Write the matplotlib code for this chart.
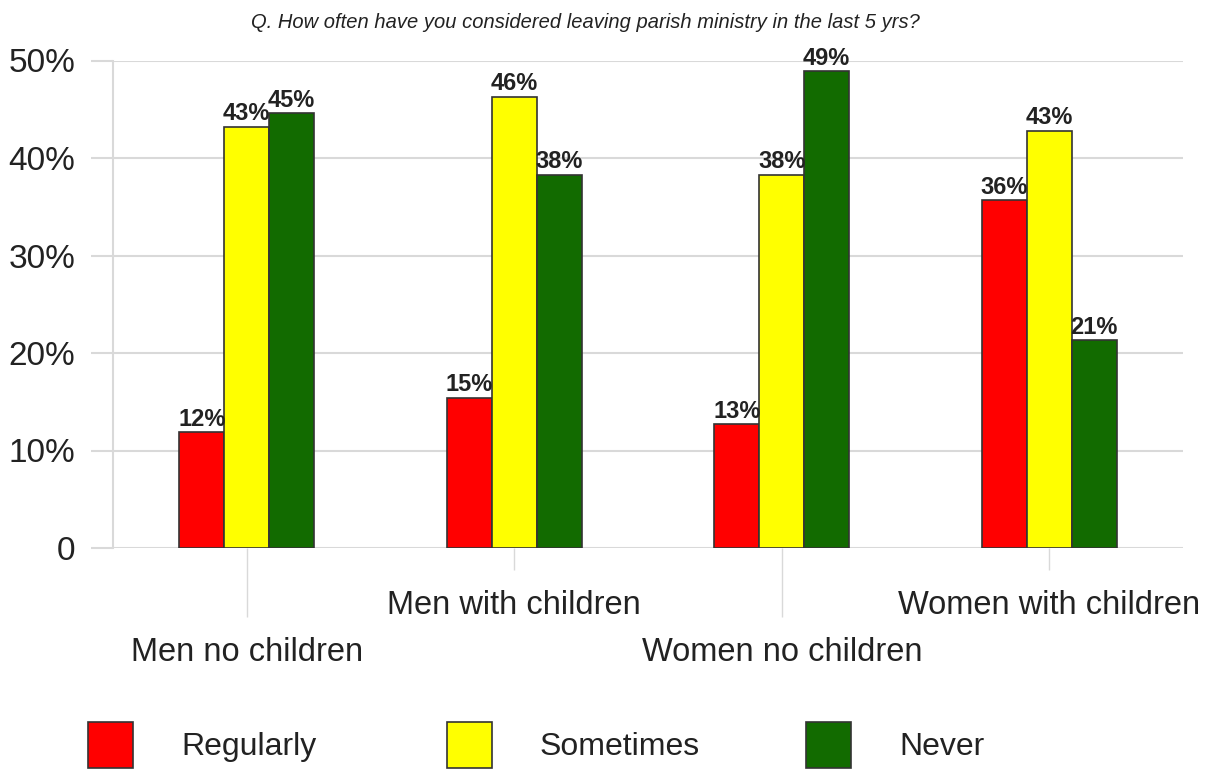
import matplotlib
matplotlib.use("Agg")
import matplotlib.pyplot as plt
import numpy as np

plt.rcParams['font.family'] = ['Liberation Sans', 'DejaVu Sans']

# Data
groups = ['Men no children', 'Men with children', 'Women no children', 'Women with children']
series = ['Regularly', 'Sometimes', 'Never']
regularly = [11.9, 15.4, 12.7, 35.7]
sometimes = [43.2, 46.3, 38.3, 42.8]
never = [44.6, 38.3, 48.9, 21.3]
yticks = [0, 10, 20, 30, 40, 50]
ytick_labels = ['0', '10%', '20%', '30%', '40%', '50%']

colors = ['#ff0000', '#ffff00', '#126b00']
grid_col = '#d9d9d9'
text_col = '#222222'

fig = plt.figure(figsize=(12.1, 7.7), dpi=100)
ax = fig.add_axes([113 / 1210, 1 - 548 / 770, 1070 / 1210, (548 - 60.5) / 770])

x = np.arange(len(groups))
w = 0.168
handles = []
for i, (name, vals) in enumerate(zip(series, [regularly, sometimes, never])):
    bars = ax.bar(x + (i - 1) * w, vals, width=w, color=colors[i], edgecolor='#333333',
                  linewidth=1.2, label=name, zorder=3)
    ax.bar_label(bars, fmt='{:.0f}%', padding=1, fontsize=17, fontweight='bold',
                 color=text_col, zorder=4)
    handles.append(bars)

ax.set_xlim(-0.5, 3.5)
ax.set_ylim(0, 50)
ax.set_yticks(yticks)
ax.set_yticklabels(ytick_labels)
ax.yaxis.grid(True, color=grid_col, linewidth=1.5, zorder=0)
ax.tick_params(axis='y', length=16, width=1.5, color=grid_col, pad=11,
               labelsize=24, labelcolor=text_col)

# staggered category labels: long ticks for 1st/3rd, short for 2nd/4th
ax.set_xticks([1, 3])
ax.set_xticklabels([groups[1], groups[3]])
ax.set_xticks([0, 2], minor=True)
ax.set_xticklabels([groups[0], groups[2]], minor=True)
ax.tick_params(axis='x', which='major', length=16, width=1, color=grid_col, pad=14,
               labelsize=23.5, labelcolor=text_col)
ax.tick_params(axis='x', which='minor', length=50, width=1, color=grid_col, pad=14,
               labelsize=23.5, labelcolor=text_col)

for s in ['top', 'right', 'bottom']:
    ax.spines[s].set_visible(False)
ax.spines['left'].set_color(grid_col)
ax.spines['left'].set_linewidth(1.5)

fig.text(0.484, 1 - 22 / 770,
         'Q. How often have you considered leaving parish ministry in the last 5 yrs?',
         ha='center', va='center', fontsize=14.5, style='italic', color=text_col)

# one legend entry per column, placed at fixed column positions
for h, name, left in zip(handles, series, [88, 447, 806]):
    leg = fig.legend([h], [name], loc='center left',
                     bbox_to_anchor=(left / 1210, 1 - 745 / 770),
                     frameon=False, fontsize=23, handlelength=1.41, handleheight=1.85,
                     handletextpad=1.5, borderpad=0, borderaxespad=0,
                     labelcolor=text_col)

fig.savefig('out.png', dpi=100)
